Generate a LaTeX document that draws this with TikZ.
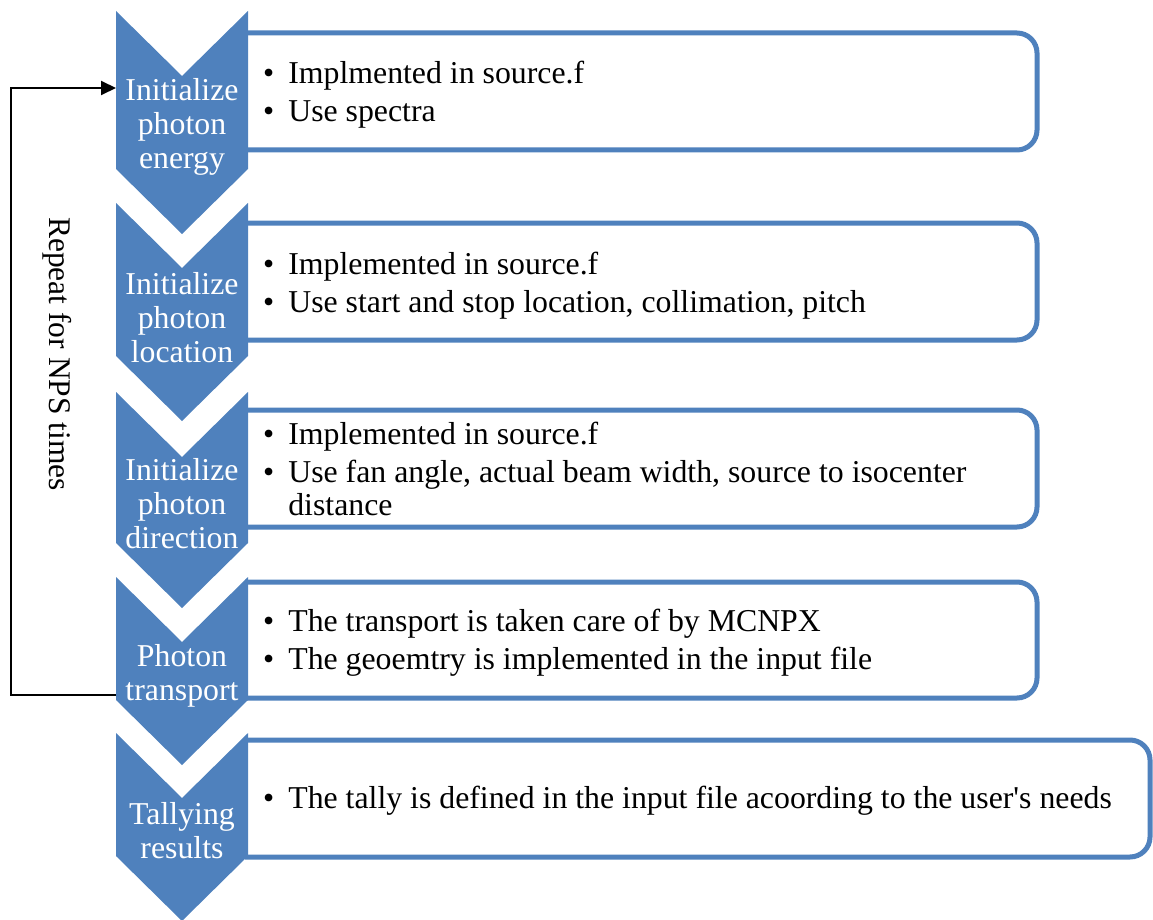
\documentclass[tikz,border=0pt]{standalone}
\usepackage{fontspec}
\setmainfont{Liberation Serif}
% same face without the TeX quote mapping, for a straight apostrophe
\newfontfamily\plainserif{Liberation Serif}
\usetikzlibrary{arrows.meta}
\definecolor{stepblue}{HTML}{4F81BD}

% chevron: #1 = top edge, #2 = tip
\newcommand\chevronshape[2]{%
  \fill[stepblue] (116,#1) -- (182,#1+65) -- (248,#1) -- (248,#2-65)
    -- (182,#2) -- (116,#2-65) -- cycle;}
% detail panel open on the left, tucked under its chevron: #1 top, #2 bottom, #3 right
\newcommand\detailpanel[3]{%
  \path[detailbox] (245,#1) -- (#3,#1) -- (#3,#2) -- (245,#2);}

\begin{document}
\begin{tikzpicture}[x=1pt,y=-1pt,
  detailbox/.style={draw=stepblue, fill=white, line width=5pt, rounded corners=20pt},
  chevtext/.style={text=white, align=center, inner sep=0pt,
    font=\fontsize{31.8}{34}\selectfont},
  detailtext/.style={anchor=west, inner sep=0pt,
    font=\fontsize{31.8}{33}\selectfont},
  looptext/.style={rotate=-90, inner sep=0pt, font=\fontsize{31.5}{33}\selectfont},
  loopline/.style={draw=black, line width=2pt, line join=miter},
]
\useasboundingbox (0,0) rectangle (1153,920);

% detail panels
\detailpanel{33}{150}{1037}
\detailpanel{223}{340}{1037}
\detailpanel{410}{527}{1037}
\detailpanel{582}{698}{1037}
\detailpanel{740}{857}{1150}

% chevrons
\chevronshape{11}{234}
\chevronshape{203}{421}
\chevronshape{392}{608}
\chevronshape{577}{765}
\chevronshape{733}{921}

% chevron labels
\node[chevtext] (c1) at (182,127) {Initialize\\photon\\energy};
\node[chevtext] (c2) at (182,318) {Initialize\\photon\\location};
\node[chevtext] (c3) at (182,504) {Initialize\\photon\\direction};
\node[chevtext] (c4) at (182,675.5) {Photon\\transport};
\node[chevtext] (c5) at (182,830.5) {Tallying\\results};

% panel texts
\node[detailtext] (d1) at (263,96) {\begin{tabular}{@{}l@{\hspace{14pt}}l@{}}
  \textbullet & Implmented in source.f\\[5pt]
  \textbullet & Use spectra\end{tabular}};
\node[detailtext] (d2) at (263,287) {\begin{tabular}{@{}l@{\hspace{14pt}}l@{}}
  \textbullet & Implemented in source.f\\[5pt]
  \textbullet & Use start and stop location, collimation, pitch\end{tabular}};
\node[detailtext] (d3) at (263,473.5) {\begin{tabular}{@{}l@{\hspace{14pt}}l@{}}
  \textbullet & Implemented in source.f\\[5pt]
  \textbullet & Use fan angle, actual beam width, source to isocenter\\
              & distance\end{tabular}};
\node[detailtext] (d4) at (263,644) {\begin{tabular}{@{}l@{\hspace{14pt}}l@{}}
  \textbullet & The transport is taken care of by MCNPX\\[5pt]
  \textbullet & The geoemtry is implemented in the input file\end{tabular}};
\node[detailtext] (d5) at (263,802) {\begin{tabular}{@{}l@{\hspace{14pt}}l@{}}
  \textbullet & The tally is defined in the input file acoording to the user{\plainserif '}s needs\end{tabular}};

% feedback loop
\coordinate (into1) at (116,88);
\coordinate (outof4) at (116,695);
\coordinate (loopx) at (11,400);
\draw[loopline, -{Triangle[length=15pt,width=14pt]}]
  (outof4) -| (loopx) |- (into1);
\node[looptext] (rep) at (57,354) {Repeat for NPS times};
\end{tikzpicture}
\end{document}
